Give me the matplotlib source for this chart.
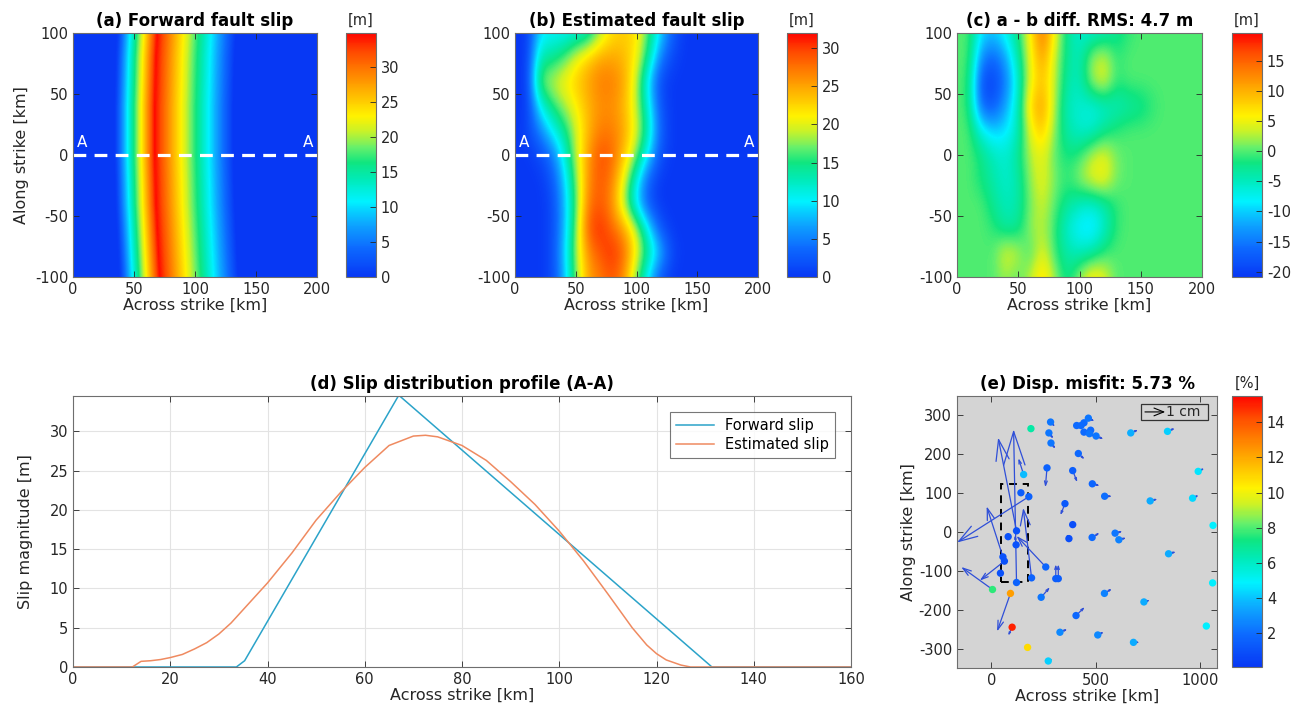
import numpy as np
import matplotlib
matplotlib.use("Agg")
import matplotlib.pyplot as plt
from matplotlib.colors import LinearSegmentedColormap
from matplotlib.patches import Rectangle

plt.rcParams['axes.unicode_minus'] = False

# ---------------- data ----------------
# (d) profile A-A
fwd_x = [0, 33.6, 35.3, 67.0, 131.4, 160]
fwd_slip = [0, 0, 0.8, 34.6, 0, 0]
est_x = [0, 12.2, 14, 16, 18, 20, 22.5, 25, 27.5, 30, 32.5, 35, 37.5, 40, 45, 50, 55,
         60, 65, 70, 72.5, 75, 80, 85, 90, 95, 100, 105, 110, 115, 118, 120, 122, 125, 127, 160]
est_slip = [0, 0, 0.72, 0.8, 0.95, 1.2, 1.6, 2.3, 3.1, 4.2, 5.6, 7.3, 9.0, 10.7, 14.5, 18.7, 22.2,
            25.4, 28.2, 29.4, 29.5, 29.3, 28.2, 26.3, 23.6, 20.7, 17.3, 13.5, 9.3, 5.0, 2.8, 1.7, 0.9, 0.25, 0, 0]

# (a) along-strike rows (y = 100 ... -100) and lateral shift of the slip band [km]
row_y = [100, 80, 60, 40, 20, 0, -20, -40, -60, -80, -100]
fwd_row_shift = [2, 1, 0.5, 0, 0, 0, 0.5, 1, 2, 3, 4]

# (b) estimated slip [m], nodes x = 0..200 step 10, rows y = 100..-100 step 20
est_grid = [
    [0, 0, 9, 10, 10, 11, 12, 18, 22, 23, 22, 16, 9, 3, 0, 0, 0, 0, 0, 0, 0],
    [0, 0, 13, 14, 16, 20, 23, 25, 25, 24, 21, 14, 5, 1, 0, 0, 0, 0, 0, 0, 0],
    [0, 0, 17, 19, 21, 23, 25, 27, 27, 25, 19, 9, 1, 0, 0, 0, 0, 0, 0, 0, 0],
    [0, 0, 10, 15, 18, 21, 24, 26, 26, 24, 19, 11, 2, 0, 0, 0, 0, 0, 0, 0, 0],
    [0, 1, 5, 10, 14, 19, 24, 27, 27, 25, 20, 13, 3, 0, 0, 0, 0, 0, 0, 0, 0],
    [0, 0, 1.2, 4.2, 10.7, 18.7, 25.4, 29.4, 28.2, 23.6, 17.3, 9.3, 1.7, 0, 0, 0, 0, 0, 0, 0, 0],
    [0, 0, 0, 2, 8, 17, 26, 29, 27, 20, 11, 3, 0, 0, 0, 0, 0, 0, 0, 0, 0],
    [0, 0, 0, 1, 7, 16, 27, 29, 26, 18, 9, 2, 0, 0, 0, 0, 0, 0, 0, 0, 0],
    [0, 0, 0, 1, 7, 17, 29, 31, 28, 25, 19, 10, 2, 0, 0, 0, 0, 0, 0, 0, 0],
    [0, 0, 0, 1, 8, 18, 26, 29, 31, 28, 21, 14, 8, 1, 0, 0, 0, 0, 0, 0, 0],
    [0, 0, 0, 1, 7, 17, 25, 27, 29, 26, 17, 9, 2, 0, 0, 0, 0, 0, 0, 0, 0],
]

# (c) a - b difference [m], same nodes
diff_grid = [
    [0, 0, -9, -10, -7, -2, 6, 15, 5, -3, -6, -6, -5, -3, -1, 0, 0, 0, 0, 0, 0],
    [0, 0, -14, -17, -12, -4, 5, 12, 3, -3, -5, 2, 4, -1, 0, 0, 0, 0, 0, 0, 0],
    [0, -1, -19, -20, -15, -6, 5, 9, 3, -4, -5, 2, 5, -1, 0, 0, 0, 0, 0, 0, 0],
    [0, -1, -17, -18, -12, -5, 8, 12, 2, -5, -6, -7, -6, -5, -4, -3, -1, 0, 0, 0, 0],
    [0, 0, -7, -10, -9, -5, 5, 9, 1, -4, -6, -6, -3, -1, 0, 0, 0, 0, 0, 0, 0],
    [0, 0, -2, -5, -6, -3, 3, 5, 0, -2, -1, 3, 5, 1, 0, 0, 0, 0, 0, 0, 0],
    [0, 0, -2, -4, -6, -4, 2, 5, 1, -1, 2, 5, 6, 1, 0, 0, 0, 0, 0, 0, 0],
    [0, 0, 0, -3, -5, -4, 1, 4, 0, -3, -5, -6, -4, -1, 0, 0, 0, 0, 0, 0, 0],
    [0, 0, 0, -1, -4, -3, 2, 3, -1, -6, -9, -10, -6, -1, 0, 0, 0, 0, 0, 0, 0],
    [0, 0, 0, 0, 5, 3, -1, 5, -1, -4, -5, -4, -1, 0, 0, 0, 0, 0, 0, 0, 0],
    [0, 0, 0, 0, 2, 0, 3, 8, 2, -3, 2, 7, 5, 0, 0, 0, 0, 0, 0, 0, 0],
]

# (e) stations: position [km], misfit [%], displacement vector (1 cm drawn as 100 km)
sta_x = [189, 283, 275, 285, 408, 429, 443, 464, 443, 475, 469, 501, 667, 843, 416, 266, 389,
         483, 542, 760, 990, 963, 352, 389, 482, 592, 610, 371, 1061, 848, 1059, 730, 541, 238,
         405, 1029, 328, 509, 680, 272, 173, 99, 91, 5,
         154, 141, 179, 120, 80, 118, 55, 62, 43, 120, 192, 260, 308, 320]
sta_y = [266, 283, 255, 229, 274, 274, 281, 293, 257, 262, 253, 247, 255, 259, 202, 165, 158,
         124, 92, 80, 156, 87, 73, 19, -14, -3, -20, -17, 17, -56, -131, -180, -158, -168,
         -215, -242, -258, -265, -284, -332, -297, -245, -158, -148,
         148, 101, 91, 3, -12, -33, -64, -75, -106, -130, -118, -90, -120, -120]
sta_misfit = [6.6, 2.2, 2.2, 2.2, 1.9, 1.9, 1.9, 2.2, 1.9, 1.9, 2.2, 2.2, 3.6, 4.2, 1.8, 1.6, 1.5,
              1.7, 2.0, 3.5, 4.6, 4.4, 1.3, 0.9, 1.9, 2.2, 2.5, 0.9, 4.8, 3.5, 4.8, 3.5, 2.5, 2.2,
              1.8, 4.8, 2.7, 2.7, 3.5, 4.2, 10.8, 15.0, 12.3, 7.6,
              3.8, 1.4, 1.6, 1.0, 1.0, 1.0, 1.0, 1.0, 1.0, 1.6, 1.6, 1.7, 1.4, 1.4]
sta_u = [0, 22, 22, 22, 22, 22, 22, 30, 22, 15, 30, 36, 36, 36, 30, -8, 22,
         36, 36, 36, 30, 30, -22, 0, 36, 36, 36, -12, 22, 36, 15, 30, 36, 42,
         42, 0, 36, 30, 30, 22, 0, -19, -64, -150,
         -25, 0, -344, -88, 0, -6, -78, -118, 0, -14, -40, -140, 0, 0]
sta_v = [0, -12, -15, -15, 0, 5, 8, -8, 0, -12, -8, -8, 8, 8, -15, -50, -30,
         -5, 0, 5, 8, 8, -30, 0, 12, 5, 5, 12, 5, 5, 5, 5, 12, 26,
         22, 0, 8, 8, 0, 5, 0, -22, -98, 58,
         42, 0, -118, 240, 0, 25, 130, -50, 0, 394, 180, 80, 37, 37]

# ---------------- style helpers ----------------
cmap = LinearSegmentedColormap.from_list('slipmap', [
    (0.00, (0.03, 0.22, 0.96)),
    (0.12, (0.05, 0.42, 1.00)),
    (0.22, (0.05, 0.66, 1.00)),
    (0.31, (0.00, 0.95, 1.00)),
    (0.40, (0.00, 0.92, 0.72)),
    (0.47, (0.06, 0.90, 0.50)),
    (0.53, (0.40, 0.94, 0.42)),
    (0.60, (0.80, 0.95, 0.15)),
    (0.66, (1.00, 0.95, 0.00)),
    (0.80, (1.00, 0.60, 0.00)),
    (0.92, (1.00, 0.30, 0.00)),
    (1.00, (1.00, 0.02, 0.00)),
])
W, H = 1298, 714
TXT = '#262626'


def box(l, t, r, b):
    return [l / W, 1 - b / H, (r - l) / W, (b - t) / H]


def style(ax):
    ax.tick_params(direction='in', length=4, width=0.6, colors=TXT, labelsize=10.5,
                   top=True, right=True)
    for s in ax.spines.values():
        s.set_color('#6e6e6e')
        s.set_linewidth(0.8)


def cbar(im, rect, ticks, label):
    cax = fig.add_axes(box(*rect))
    cb = fig.colorbar(im, cax=cax, ticks=ticks)
    cb.ax.tick_params(direction='in', length=4, width=0.6, colors=TXT, labelsize=10.5)
    cb.outline.set_edgecolor('#6e6e6e')
    cb.ax.set_title(label, fontsize=10.5, color=TXT, pad=6)
    return cb


fig = plt.figure(figsize=(12.98, 7.14), dpi=100)

# ---------------- (a), (b), (c) slip maps ----------------
xf = np.arange(0, 201, 1.0)
fwd_grid = np.array([np.interp(xf - s, fwd_x, fwd_slip, right=0) for s in fwd_row_shift])

ax_a = fig.add_axes(box(73, 33, 317, 277))
im_a = ax_a.imshow(fwd_grid, extent=[-0.5, 200.5, -110, 110], aspect='auto', cmap=cmap,
                   vmin=0, vmax=34.8, interpolation='bilinear', interpolation_stage='data')
cbar(im_a, (346, 33, 376, 277), range(0, 31, 5), '[m]')

ax_b = fig.add_axes(box(515, 33, 758, 277))
im_b = ax_b.imshow(np.array(est_grid), extent=[-5, 205, -110, 110], aspect='auto', cmap=cmap,
                   vmin=0, vmax=32, interpolation='bicubic', interpolation_stage='data')
cbar(im_b, (787, 33, 817, 277), range(0, 31, 5), '[m]')

ax_c = fig.add_axes(box(957, 33, 1202, 277))
im_c = ax_c.imshow(np.array(diff_grid), extent=[-5, 205, -110, 110], aspect='auto', cmap=cmap,
                   vmin=-20.9, vmax=19.7, interpolation='bicubic', interpolation_stage='data')
cbar(im_c, (1232, 33, 1262, 277), range(-20, 16, 5), '[m]')

titles = ['(a) Forward fault slip', '(b) Estimated fault slip', '(c) a - b diff. RMS: 4.7 m']
for ax, t in zip([ax_a, ax_b, ax_c], titles):
    ax.set_xlim(0, 200)
    ax.set_ylim(-100, 100)
    ax.set_xticks([0, 50, 100, 150, 200])
    ax.set_yticks([-100, -50, 0, 50, 100])
    style(ax)
    ax.set_title(t, fontsize=12, fontweight='bold', color='black', pad=5)
    ax.set_xlabel('Across strike [km]', fontsize=11.5, color=TXT, labelpad=1)
ax_a.set_ylabel('Along strike [km]', fontsize=11.5, color=TXT, labelpad=4)

for ax in [ax_a, ax_b]:
    ax.axhline(0, color='white', lw=2.3, dashes=(4, 2.6))
    ax.text(3, 4, 'A', color='white', fontsize=11, ha='left', va='bottom')
    ax.text(197, 4, 'A', color='white', fontsize=11, ha='right', va='bottom')

# ---------------- (d) profile ----------------
ax_d = fig.add_axes(box(73, 396, 851, 667))
ax_d.plot(fwd_x, fwd_slip, color='#2ba3c9', lw=1.1, label='Forward slip')
ax_d.plot(est_x, est_slip, color='#ef8a60', lw=1.1, label='Estimated slip')
ax_d.set_xlim(0, 160)
ax_d.set_ylim(0, 34.5)
ax_d.set_xticks(range(0, 161, 20))
ax_d.set_yticks(range(0, 31, 5))
ax_d.grid(True, color='#e3e3e3', lw=0.8)
ax_d.set_axisbelow(True)
style(ax_d)
ax_d.set_title('(d) Slip distribution profile (A-A)', fontsize=12, fontweight='bold', pad=5)
ax_d.set_xlabel('Across strike [km]', fontsize=11.5, color=TXT, labelpad=1)
ax_d.set_ylabel('Slip magnitude [m]', fontsize=11.5, color=TXT, labelpad=12)
leg = ax_d.legend(loc='upper right', fontsize=10.5, fancybox=False, edgecolor='#555555',
                  borderaxespad=1.1, handlelength=2.6, labelspacing=0.3)
leg.get_frame().set_linewidth(0.8)

# ---------------- (e) displacement misfit ----------------
ax_e = fig.add_axes(box(957, 396, 1217, 668))
ax_e.set_facecolor('#d4d4d4')
ax_e.set_xlim(-165, 1080)
ax_e.set_ylim(-350, 350)
ax_e.set_xticks([0, 500, 1000])
ax_e.set_yticks(range(-300, 301, 100))
style(ax_e)

ax_e.add_patch(Rectangle((45, -128), 128, 251, fill=False, ls=(0, (4, 3)), lw=1.4,
                         edgecolor='black', zorder=2))

for x, y, u, v in zip(sta_x, sta_y, sta_u, sta_v):
    if u == 0 and v == 0:
        continue
    p0 = ax_e.transData.transform((x, y))
    p1 = ax_e.transData.transform((x + u, y + v))
    L = np.hypot(*(p1 - p0)) * 0.72
    ax_e.annotate('', xy=(x + u, y + v), xytext=(x, y),
                  arrowprops=dict(arrowstyle='->,head_length=0.22,head_width=0.07',
                                  color='#2f4fd8', lw=0.9, shrinkA=0, shrinkB=0,
                                  mutation_scale=max(L, 3)), zorder=3)

sc = ax_e.scatter(sta_x, sta_y, c=sta_misfit, cmap=cmap, vmin=0.06, vmax=15.5, s=28,
                  edgecolors='none', zorder=4)

# scale arrow box
ax_e.add_patch(Rectangle((715, 288), 322, 42, fill=False, edgecolor='#333333', lw=0.9, zorder=5))
ax_e.annotate('', xy=(832, 309), xytext=(735, 309),
              arrowprops=dict(arrowstyle='->,head_length=0.5,head_width=0.2', color='black',
                              lw=0.8, shrinkA=0, shrinkB=0, mutation_scale=14), zorder=5)
ax_e.text(836, 309, '1 cm', fontsize=10, color=TXT, va='center', ha='left', zorder=5)

ax_e.set_title('(e) Disp. misfit: 5.73 %', fontsize=12, fontweight='bold', pad=5)
ax_e.set_xlabel('Across strike [km]', fontsize=11.5, color=TXT, labelpad=1)
ax_e.set_ylabel('Along strike [km]', fontsize=11.5, color=TXT, labelpad=2)
cbar(sc, (1232, 396, 1262, 667), range(2, 15, 2), '[%]')

fig.savefig('out.png', dpi=100)
